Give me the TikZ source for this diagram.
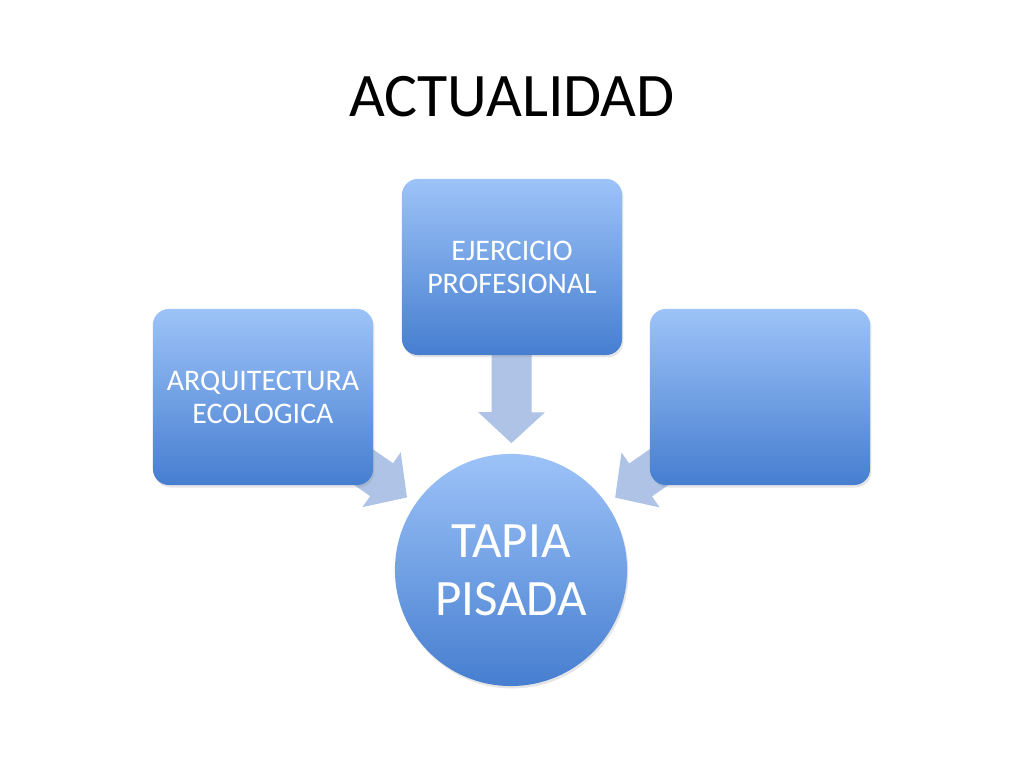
\documentclass[tikz,border=0pt]{standalone}
\usepackage{fontspec}
\setmainfont{Carlito}
\usepackage{tikz}
\usetikzlibrary{arrows.meta,shadows,backgrounds}
\definecolor{azulclaro}{RGB}{157,195,248}
\definecolor{azuloscuro}{RGB}{70,126,208}
\definecolor{flechaazul}{RGB}{174,195,229}
\tikzset{
  caja/.style={rectangle, rounded corners=0.16cm, minimum width=2.2cm, minimum height=1.76cm,
    top color=azulclaro, bottom color=azuloscuro, text=white, align=center,
    font=\fontsize{8.5}{9.4}\selectfont,
    drop shadow={shadow xshift=0.4pt, shadow yshift=-0.7pt, opacity=0.2}},
  centro/.style={circle, minimum size=2.32cm, inner sep=0pt,
    top color=azulclaro, bottom color=azuloscuro, text=white, align=center,
    font=\fontsize{14.5}{16.4}\selectfont,
    drop shadow={shadow xshift=0.4pt, shadow yshift=-0.7pt, opacity=0.2}},
  flecha/.style={line width=0.4cm, draw=flechaazul,
    -{Triangle[width=0.65cm,length=0.31cm,fill=flechaazul]}, shorten >=0.1cm}
}
\begin{document}
\begin{tikzpicture}[x=0.01cm,y=-0.01cm]
    \useasboundingbox (0,0) rectangle (1024,768);
    \node[font=\fontsize{17.6}{20}\selectfont] (titulo) at (512,97) {ACTUALIDAD};

    \node[centro] (tapia) at (511,570) {TAPIA\\PISADA};
    \node[caja] (ejer) at (512,267) {EJERCICIO\\PROFESIONAL};
    \node[caja] (ecol) at (263,397) {ARQUITECTURA\\ECOLOGICA};
    \node[caja] (vacio) at (760,397) {};

    % flechas hacia el circulo
    \begin{scope}[on background layer]
        \fill[white] (0,0) rectangle (1024,768);
        \draw[flecha] (ejer.center) -- (tapia);
        \draw[flecha] (ecol.center) -- (tapia);
        \draw[flecha] (vacio.center) -- (tapia);
    \end{scope}
\end{tikzpicture}
\end{document}
